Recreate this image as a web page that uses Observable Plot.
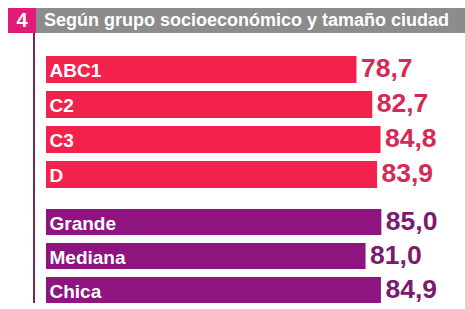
<!DOCTYPE html>
<html>
<head>
<meta charset="utf-8">
<script src="https://cdn.jsdelivr.net/npm/d3@7"></script>
<script src="https://cdn.jsdelivr.net/npm/@observablehq/plot@0.6"></script>
<style>
  html, body { margin: 0; padding: 0; background: #ffffff; }
  #wrap { position: relative; width: 465px; height: 309px; overflow: hidden; font-family: "Liberation Sans", Arial, sans-serif; }
  #num { position: absolute; left: 8px; top: 8px; width: 28px; height: 25px; background: #e01b78; color: #fff; font-weight: bold; font-size: 20px; line-height: 25px; text-align: center; }
  #title { position: absolute; left: 36px; top: 8px; width: 429px; height: 25px; background: #8c8c8c; color: #fff; font-weight: bold; font-size: 18px; line-height: 25px; padding-left: 8px; box-sizing: border-box; white-space: nowrap; }
  #vline { position: absolute; left: 33px; top: 33px; width: 2px; height: 270px; background: #6e2a55; }
  #p1 { position: absolute; left: 0; top: 56px; }
  #p2 { position: absolute; left: 0; top: 208px; }
</style>
</head>
<body>
<div id="wrap">
  <div id="num">4</div>
  <div id="title">Según grupo socioeconómico y tamaño ciudad</div>
  <div id="vline"></div>
  <div id="p1"></div>
  <div id="p2"></div>
</div>
<script>
const seCategories = ["ABC1", "C2", "C3", "D"];
const seValues = [78.7, 82.7, 84.8, 83.9];
const citySizes = ["Grande", "Mediana", "Chica"];
const cityValues = [85.0, 81.0, 84.9];

const fmt = v => v.toFixed(1).replace(".", ",");

function chart(cats, vals, barColor, textColor, height) {
  const data = cats.map((c, i) => ({label: c, value: vals[i]}));
  return Plot.plot({
    width: 465,
    height,
    marginLeft: 46,
    marginRight: 24.5,
    marginTop: 0,
    marginBottom: 0,
    style: {fontFamily: "'Liberation Sans', Arial, sans-serif", background: "transparent", overflow: "visible"},
    x: {domain: [0, 100], axis: null},
    y: {domain: cats, axis: null, paddingInner: 0.24, paddingOuter: 0},
    marks: [
      Plot.barX(data, {x: "value", y: "label", fill: barColor}),
      Plot.text(data, {x: 0, y: "label", text: "label", textAnchor: "start", dx: 3, dy: 1, fill: "white", fontWeight: "bold", fontSize: 19}),
      Plot.text(data, {x: "value", y: "label", text: d => fmt(d.value), textAnchor: "start", dx: 4, dy: -1, fill: textColor, fontWeight: "bold", fontSize: 26.5})
    ]
  });
}

document.getElementById("p1").appendChild(chart(seCategories, seValues, "#f2224c", "#d42a55", 132));
document.getElementById("p2").appendChild(chart(citySizes, cityValues, "#8e1480", "#7c1a6e", 96));
</script>
</body>
</html>
